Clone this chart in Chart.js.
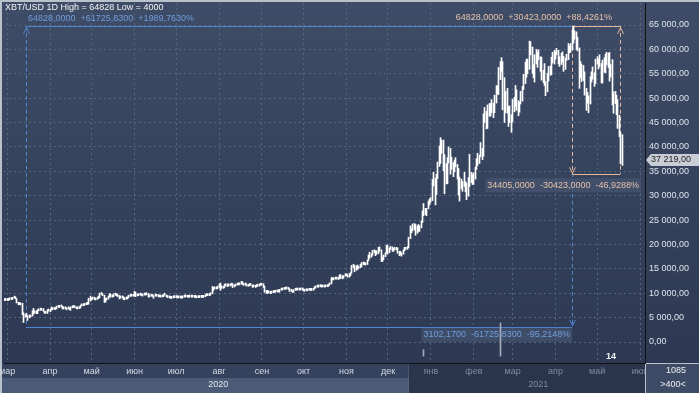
<!DOCTYPE html>
<html>
<head>
<meta charset="utf-8">
<script src="https://cdn.jsdelivr.net/npm/chart.js@4.4.0/dist/chart.umd.min.js"></script>
<style>
  html, body { margin: 0; padding: 0; background: #b9c1cb; }
  #xbt_chart { display: block; }
</style>
</head>
<body>
<canvas id="xbt_chart" width="699" height="393"></canvas>
<script>
// days are counted from 01.03.2020, first candle is 28.02.2020
var firstDay = -2;

// daily high / low, thousands USD
var highs = [
    8.9, 8.8,
    // mar 2020
    8.75, 8.95, 8.9, 8.85, 9.15, 9.17, 9.2, 8.9, 8.15, 8.1, 7.97, 7.95, 6.0, 5.65, 5.9, 5.35, 5.55, 5.4, 6.4, 6.9, 6.4, 6.4, 6.6, 6.8, 6.95, 6.8, 6.85, 6.3, 6.25, 6.6, 6.5,
    // apr
    6.7, 7.2, 7.0, 6.95, 6.85, 7.35, 7.45, 7.4, 7.35, 7.3, 6.95, 7.2, 6.95, 6.98, 6.95, 7.2, 7.15, 7.3, 7.25, 7.2, 6.95, 7.15, 7.5, 7.6, 7.7, 7.7, 7.8, 7.8, 8.95, 9.4,
    // may
    9.05, 9.0, 9.2, 8.95, 9.1, 9.4, 10.0, 10.0, 9.9, 9.6, 9.0, 8.95, 9.4, 9.9, 9.85, 9.6, 9.9, 9.95, 9.9, 9.8, 9.55, 9.25, 9.3, 9.3, 8.95, 9.0, 9.2, 9.6, 9.6, 9.75, 9.7,
    // jun
    10.4, 10.2, 9.7, 9.9, 9.85, 9.75, 9.8, 9.8, 9.85, 9.95, 9.95, 9.55, 9.5, 9.5, 9.5, 9.55, 9.55, 9.5, 9.4, 9.4, 9.4, 9.7, 9.7, 9.65, 9.35, 9.3, 9.2, 9.15, 9.2, 9.2,
    // jul
    9.3, 9.25, 9.1, 9.15, 9.1, 9.35, 9.35, 9.45, 9.45, 9.3, 9.3, 9.35, 9.35, 9.3, 9.25, 9.2, 9.2, 9.2, 9.25, 9.2, 9.4, 9.55, 9.65, 9.65, 9.75, 10.1, 11.4, 11.2, 11.3, 11.2, 11.45,
    // aug
    11.9, 12.1, 11.5, 11.4, 11.8, 11.9, 11.9, 11.8, 11.8, 12.05, 12.0, 11.6, 11.8, 11.95, 11.97, 11.95, 12.45, 12.35, 12.0, 11.9, 11.9, 11.7, 11.7, 11.8, 11.7, 11.55, 11.6, 11.55, 11.55, 11.7, 11.75,
    // sep
    12.05, 11.95, 11.45, 10.6, 10.55, 10.35, 10.4, 10.45, 10.35, 10.5, 10.4, 10.45, 10.45, 10.8, 10.9, 11.0, 11.05, 11.0, 11.15, 11.05, 10.95, 10.55, 10.55, 10.75, 10.75, 10.8, 10.8, 10.95, 10.85, 10.8,
    // oct
    10.9, 10.65, 10.6, 10.7, 10.8, 10.8, 10.7, 10.95, 11.1, 11.5, 11.45, 11.7, 11.55, 11.55, 11.55, 11.55, 11.4, 11.5, 11.8, 12.0, 13.2, 13.2, 13.0, 13.15, 13.3, 13.25, 13.75, 13.85, 13.6, 13.6, 14.0,
    // nov
    13.85, 13.8, 14.05, 14.2, 15.7, 15.95, 15.7, 15.6, 15.8, 15.45, 15.9, 16.3, 16.4, 16.3, 16.1, 16.8, 17.8, 18.4, 18.1, 18.8, 18.9, 18.7, 18.7, 19.4, 19.5, 18.9, 17.4, 17.85, 18.3, 19.8,
    // dec
    19.9, 19.3, 19.6, 19.5, 19.2, 19.4, 19.4, 19.3, 18.6, 18.6, 18.3, 18.9, 19.4, 19.35, 19.55, 21.5, 23.8, 23.3, 24.2, 24.3, 24.1, 23.8, 24.1, 23.8, 24.8, 26.9, 28.4, 27.4, 27.4, 28.9, 29.3,
    // jan 2021
    29.6, 33.3, 34.8, 33.6, 34.4, 36.9, 40.2, 41.9, 41.4, 41.4, 38.4, 36.6, 37.8, 40.0, 39.7, 37.9, 36.8, 37.3, 37.8, 36.4, 35.6, 33.8, 33.4, 32.9, 34.8, 32.9, 32.6, 33.7, 38.5, 34.8, 34.3,
    // feb
    34.7, 35.9, 37.6, 38.7, 38.3, 40.9, 39.7, 46.8, 48.1, 47.3, 48.6, 48.9, 48.9, 49.7, 49.0, 50.6, 52.6, 52.5, 56.3, 57.5, 58.3, 57.5, 54.2, 51.4, 52.0, 48.3, 48.4, 46.6,
    // mar
    49.8, 50.2, 52.6, 51.7, 49.5, 49.2, 51.4, 52.4, 54.9, 57.4, 58.0, 58.0, 61.7, 61.6, 60.5, 56.9, 58.9, 60.0, 59.4, 59.9, 58.5, 58.4, 55.7, 57.1, 53.4, 55.1, 56.5, 56.6, 58.4, 59.4, 59.8,
    // apr
    59.5, 60.2, 59.8, 58.5, 59.2, 59.5, 58.6, 58.2, 59.0, 61.2, 60.7, 61.2, 64.0, 64.8, 63.8, 63.6, 62.5, 60.3, 57.5, 57.0, 56.7, 55.4, 52.0, 51.2, 50.5, 54.4, 55.4, 56.4, 55.2, 58.0,
    // may
    58.5, 58.0, 58.9, 57.1, 57.8, 58.3, 59.0, 59.4, 59.2, 59.4, 56.9, 57.9, 51.3, 51.4, 50.6, 49.7, 46.5, 43.0, 42.5
];

var lows = [
    8.45, 8.55,
    // mar 2020
    8.5, 8.5, 8.65, 8.7, 8.75, 9.0, 8.85, 8.0, 7.63, 7.73, 7.6, 5.6, 4.0, 5.1, 5.2, 4.45, 5.0, 5.1, 5.3, 5.7, 5.9, 5.8, 5.8, 6.4, 6.5, 6.5, 6.3, 5.9, 5.87, 5.86, 6.35,
    // apr
    6.2, 6.6, 6.6, 6.7, 6.65, 6.8, 7.1, 7.1, 7.2, 6.75, 6.8, 6.8, 6.6, 6.8, 6.6, 6.5, 7.0, 7.05, 7.05, 6.8, 6.8, 6.85, 7.0, 7.4, 7.45, 7.5, 7.65, 7.7, 7.75, 8.4,
    // may
    8.6, 8.8, 8.7, 8.6, 8.75, 8.9, 9.1, 9.75, 9.5, 8.1, 8.2, 8.6, 8.8, 9.25, 9.2, 9.2, 9.3, 9.6, 9.5, 9.3, 8.85, 9.0, 9.05, 8.7, 8.65, 8.8, 8.85, 9.1, 9.35, 9.4, 9.4,
    // jun
    9.4, 9.3, 9.45, 9.5, 9.6, 9.55, 9.4, 9.65, 9.6, 9.7, 9.2, 9.25, 9.4, 9.35, 8.95, 9.4, 9.4, 9.3, 9.2, 9.2, 9.25, 9.3, 9.6, 9.25, 9.1, 9.05, 8.95, 8.95, 9.05, 9.1,
    // jul
    9.1, 9.05, 9.05, 9.05, 8.95, 9.05, 9.2, 9.25, 9.2, 9.15, 9.2, 9.2, 9.2, 9.15, 9.15, 9.05, 9.1, 9.1, 9.15, 9.15, 9.15, 9.3, 9.5, 9.5, 9.5, 9.65, 9.9, 10.6, 10.9, 10.85, 10.95,
    // aug
    11.2, 10.6, 11.0, 11.0, 11.15, 11.55, 11.35, 11.5, 11.5, 11.65, 11.15, 11.3, 11.5, 11.65, 11.75, 11.7, 11.9, 11.8, 11.6, 11.7, 11.45, 11.4, 11.55, 11.6, 11.2, 11.3, 11.2, 11.3, 11.45, 11.45, 11.6,
    // sep
    11.65, 11.2, 10.2, 10.0, 9.9, 10.1, 9.9, 10.0, 10.1, 10.2, 10.2, 10.3, 10.2, 10.25, 10.65, 10.65, 10.8, 10.8, 10.9, 10.8, 10.35, 10.4, 10.15, 10.2, 10.6, 10.65, 10.65, 10.65, 10.65, 10.7,
    // oct
    10.45, 10.4, 10.5, 10.5, 10.6, 10.55, 10.6, 10.6, 10.9, 11.05, 11.25, 11.25, 11.35, 11.25, 11.3, 11.25, 11.3, 11.35, 11.4, 11.7, 11.9, 12.7, 12.75, 12.9, 12.9, 12.8, 13.05, 13.0, 12.95, 13.1, 13.5,
    // nov
    13.6, 13.3, 13.3, 13.6, 14.1, 15.2, 14.4, 14.7, 14.9, 15.1, 15.25, 15.4, 15.9, 15.8, 15.8, 15.9, 16.7, 17.2, 17.4, 17.8, 18.3, 17.7, 18.0, 18.1, 18.6, 16.5, 16.5, 16.9, 17.5, 18.2,
    // dec
    18.0, 18.3, 19.0, 18.6, 18.6, 18.9, 18.9, 18.2, 17.7, 17.9, 17.6, 18.0, 18.7, 19.0, 19.0, 19.3, 21.2, 22.4, 22.8, 23.0, 21.9, 22.3, 22.7, 22.7, 23.4, 24.5, 25.9, 26.1, 25.9, 27.3, 28.1,
    // jan 2021
    28.6, 29.0, 32.0, 28.1, 30.2, 33.5, 36.0, 36.6, 38.7, 35.1, 30.4, 32.4, 32.5, 36.7, 34.4, 35.4, 33.9, 34.9, 35.9, 33.4, 30.1, 28.9, 31.4, 30.9, 31.9, 30.8, 29.2, 29.9, 31.9, 32.7, 32.3,
    // feb
    32.3, 33.4, 35.4, 36.2, 36.6, 38.0, 37.4, 38.1, 45.0, 43.7, 43.8, 46.3, 46.3, 47.0, 46.0, 47.0, 49.0, 50.9, 50.7, 53.8, 55.5, 47.6, 45.0, 47.0, 46.9, 44.2, 45.0, 43.0,
    // mar
    45.1, 47.2, 48.3, 47.5, 46.4, 47.1, 48.8, 49.4, 51.8, 53.0, 54.3, 55.0, 55.9, 58.9, 55.1, 54.2, 53.3, 57.0, 56.3, 57.9, 55.5, 53.7, 53.2, 52.6, 50.5, 51.3, 53.5, 54.7, 54.8, 57.2, 57.0,
    // apr
    58.0, 58.9, 57.0, 56.5, 56.9, 57.4, 55.5, 55.9, 57.7, 57.9, 59.3, 59.4, 59.9, 61.3, 62.1, 60.0, 59.7, 52.0, 54.2, 53.4, 53.6, 50.6, 47.5, 49.0, 47.0, 48.8, 53.3, 53.9, 52.4, 53.0,
    // may
    57.0, 56.0, 56.5, 53.1, 53.1, 55.3, 55.2, 56.8, 56.3, 53.5, 54.3, 48.6, 46.9, 48.9, 46.6, 43.8, 42.1, 36.5, 36.2
];

var monthStarts = [0, 31, 61, 92, 122, 153, 184, 214, 245, 275, 306, 337, 365, 396, 426, 457];
var monthLabels = ['мар', 'апр', 'май', 'июн', 'июл', 'авг', 'сен', 'окт', 'ноя', 'дек', 'янв', 'фев', 'мар', 'апр', 'май', 'июн'];
var yearLabels = ['2020', '2021'];
var yearCenters = [152.5, 383.5];
var priceTicks = [0, 5000, 10000, 15000, 20000, 25000, 30000, 35000, 40000, 45000, 50000, 55000, 60000, 65000];
var lastPrice = 37219;

// small grey marks under the chart
var markDays = [300.6, 356.4];
var markLows = [-2900, -2900];
var markHighs = [-1600, 3900];

var FONT = '"Liberation Sans", Arial, sans-serif';
var NEW_RANGE = 290; // 2021 band on the time axis starts here (darker)

function fmtPrice(v) {
    var s = Math.round(v).toString().replace(/\B(?=(\d{3})+(?!\d))/g, ' ');
    return s + ',00';
}

var candles = highs.map(function (h, i) {
    return { x: firstDay + i, y: [lows[i] * 1000, h * 1000] };
});
var marks = markDays.map(function (d, i) {
    return { x: d, y: [markLows[i], markHighs[i]] };
});

function arrow(ctx, x, y, dir) {
    ctx.beginPath();
    ctx.moveTo(x - 3, y + dir * 7);
    ctx.lineTo(x, y + dir * 1);
    ctx.lineTo(x + 3, y + dir * 7);
    ctx.stroke();
}

function labelBox(ctx, text, x, y, color, align, bg) {
    ctx.font = '9px ' + FONT;
    var w = ctx.measureText(text).width;
    var left = align === 'right' ? x - w : x;
    if (bg) {
        ctx.fillStyle = bg;
        ctx.fillRect(left - 2, y - 7, w + 4, 14);
    }
    ctx.fillStyle = color;
    ctx.textAlign = 'left';
    ctx.textBaseline = 'middle';
    ctx.fillText(text, left, y);
}

// measuring tools
function drawTool(ctx, xs, ys, t) {
    var x1 = xs.getPixelForValue(t.x1), x2 = xs.getPixelForValue(t.x2);
    var yH = ys.getPixelForValue(t.high), yL = ys.getPixelForValue(t.low);
    ctx.save();
    ctx.strokeStyle = t.color;
    ctx.lineWidth = 1;
    ctx.beginPath();
    ctx.moveTo(x1, Math.round(yH) + 0.5); ctx.lineTo(x2, Math.round(yH) + 0.5);
    ctx.moveTo(x1, Math.round(yL) + 0.5); ctx.lineTo(x2, Math.round(yL) + 0.5);
    ctx.stroke();
    ctx.setLineDash([4, 3]);
    ctx.beginPath();
    ctx.moveTo(Math.round(x1) + 0.5, yH); ctx.lineTo(Math.round(x1) + 0.5, yL);
    ctx.moveTo(Math.round(x2) + 0.5, yH); ctx.lineTo(Math.round(x2) + 0.5, yL);
    ctx.stroke();
    ctx.setLineDash([]);
    if (t.leftUp) {
        arrow(ctx, Math.round(x1) + 0.5, yH + 1, 1);
        arrow(ctx, Math.round(x2) + 0.5, yL, -1);
    } else {
        arrow(ctx, Math.round(x1) + 0.5, yL, -1);
        arrow(ctx, Math.round(x2) + 0.5, yH + 1, 1);
    }
    ctx.restore();
    return { x1: x1, x2: x2, yH: yH, yL: yL };
}

var toolPlugin = {
    id: 'tools',
    // snap the 1px candles to whole pixels so they stay sharp
    afterDatasetUpdate: function (chart, args) {
        args.meta.data.forEach(function (el) {
            el.x = Math.floor(el.x) + 0.5;
        });
    },
    beforeDraw: function (chart) {
        var ctx = chart.ctx, a = chart.chartArea;
        ctx.save();
        ctx.fillStyle = '#b9c1cb';
        ctx.fillRect(0, 0, 699, 393);
        var g = ctx.createLinearGradient(0, 2, 0, a.bottom);
        g.addColorStop(0, 'rgb(62,76,103)');
        g.addColorStop(1, 'rgb(45,57,82)');
        ctx.fillStyle = g;
        ctx.fillRect(2, 2, 697, a.bottom - 2);
        var xs = chart.scales.x;
        var split = xs.getPixelForValue(NEW_RANGE);
        ctx.fillStyle = '#34425d';
        ctx.fillRect(2, a.bottom, split - 2, 15);
        ctx.fillStyle = '#4b5a77';
        ctx.fillRect(2, a.bottom + 15, split - 2, 15);
        ctx.fillStyle = '#2a354c';
        ctx.fillRect(split, a.bottom, a.right - split, 30);
        ctx.restore();
    },
    beforeDatasetsDraw: function (chart) {
        var ctx = chart.ctx, xs = chart.scales.x, ys = chart.scales.y;
        var b = drawTool(ctx, xs, ys, { x1: 13.6, x2: 408, low: 3102.17, high: 64828, color: '#4f86d0', leftUp: true });
        labelBox(ctx, '64828,0000  +61725,8300  +1989,7630%', b.x1 + 2, b.yH - 7, '#6f9ddb');
        labelBox(ctx, '3102,1700  -61725,8300  -95,2148%', b.x2 - 2, b.yL + 8, '#6f9ddb', 'right', 'rgba(70,84,112,0.75)');
        var o = drawTool(ctx, xs, ys, { x1: 408, x2: 442.5, low: 34405, high: 64828, color: '#e6b898', leftUp: false });
        labelBox(ctx, '64828,0000  +30423,0000  +88,4261%', o.x2 - 8, o.yH - 8, '#e5c2a8', 'right');
        labelBox(ctx, '34405,0000  -30423,0000  -46,9288%', o.x2 + 19, o.yL + 11, '#e5c2a8', 'right', 'rgba(70,84,112,0.75)');
    },
    afterDraw: function (chart) {
        var ctx = chart.ctx, a = chart.chartArea, xs = chart.scales.x, ys = chart.scales.y;
        ctx.save();
        ctx.font = '9px ' + FONT;
        ctx.textBaseline = 'middle';
        ctx.textAlign = 'left';
        ctx.fillStyle = '#f2f2f2';
        ctx.fillText('XBT/USD 1D High = 64828 Low = 4000', 5, 8);

        // year row
        ctx.textAlign = 'center';
        yearLabels.forEach(function (t, i) {
            ctx.fillStyle = i === 0 ? '#e4e9f0' : '#7d8aa3';
            ctx.fillText(t, xs.getPixelForValue(yearCenters[i]), a.bottom + 22);
        });

        ctx.fillStyle = '#f0f0f0';
        ctx.font = 'bold 9px ' + FONT;
        ctx.fillText('14', xs.getPixelForValue(436), a.bottom - 6);

        // last price tag
        var py = Math.round(ys.getPixelForValue(lastPrice));
        ctx.fillStyle = '#c9ced6';
        ctx.beginPath();
        ctx.moveTo(a.right + 1, py);
        ctx.lineTo(a.right + 6, py - 6);
        ctx.lineTo(699, py - 6);
        ctx.lineTo(699, py + 6);
        ctx.lineTo(a.right + 6, py + 6);
        ctx.closePath();
        ctx.fill();
        ctx.fillStyle = '#1e1e1e';
        ctx.font = '9px ' + FONT;
        ctx.textAlign = 'left';
        ctx.fillText(fmtPrice(lastPrice), a.right + 6, py);

        // corner box
        ctx.fillStyle = '#3d4b67';
        ctx.fillRect(a.right + 1, a.bottom + 1, 699 - a.right - 1, 30);
        ctx.fillStyle = '#f0f0f0';
        ctx.textAlign = 'center';
        ctx.fillText('1085', 676, a.bottom + 8);
        ctx.fillText('>400<', 673, a.bottom + 22);
        ctx.restore();
    }
};

Chart.defaults.font.family = FONT;
Chart.defaults.font.size = 9;

var ctx = document.getElementById('xbt_chart');

var xbtChart = new Chart(ctx, {
    type: 'bar',
    data: {
        datasets: [
            {
                label: 'XBT/USD',
                data: candles,
                backgroundColor: '#ffffff',
                barThickness: 1,
                minBarLength: 2,
                grouped: false
            },
            {
                label: 'marks',
                data: marks,
                backgroundColor: '#a3abb8',
                barThickness: 1,
                grouped: false
            }
        ]
    },
    options: {
        responsive: false,
        animation: false,
        layout: { padding: { left: 4, top: 3, right: 0, bottom: 0 } },
        plugins: {
            legend: { display: false },
            tooltip: { enabled: false }
        },
        scales: {
            x: {
                type: 'linear',
                min: -2.24,
                max: 460.58,
                offset: false,
                grid: { color: '#56657f', drawTicks: false, offset: false },
                border: { color: '#111111', width: 1, dash: [2, 3] },
                afterBuildTicks: function (scale) {
                    scale.ticks = monthStarts.map(function (v) { return { value: v }; });
                },
                afterFit: function (scale) {
                    scale.height = 30;
                    scale.paddingLeft = 0;
                    scale.paddingRight = 0;
                },
                ticks: {
                    autoSkip: false,
                    maxRotation: 0,
                    minRotation: 0,
                    padding: 3,
                    color: function (c) {
                        return c.tick && c.tick.value >= 306 ? '#7d8aa3' : '#d3dae6';
                    },
                    callback: function (v) {
                        return monthLabels[monthStarts.indexOf(v)];
                    }
                }
            },
            y: {
                position: 'right',
                min: -4306,
                max: 69512,
                grid: { color: '#56657f', drawTicks: false },
                border: { color: '#111111', width: 1, dash: [2, 3] },
                afterBuildTicks: function (scale) {
                    scale.ticks = priceTicks.map(function (v) { return { value: v }; });
                },
                afterFit: function (scale) {
                    scale.width = 54;
                    scale.paddingTop = 0;
                    scale.paddingBottom = 0;
                },
                ticks: {
                    padding: 4,
                    color: '#dce3ec',
                    callback: function (v) { return fmtPrice(v); }
                }
            }
        }
    },
    plugins: [toolPlugin]
});
</script>
</body>
</html>
